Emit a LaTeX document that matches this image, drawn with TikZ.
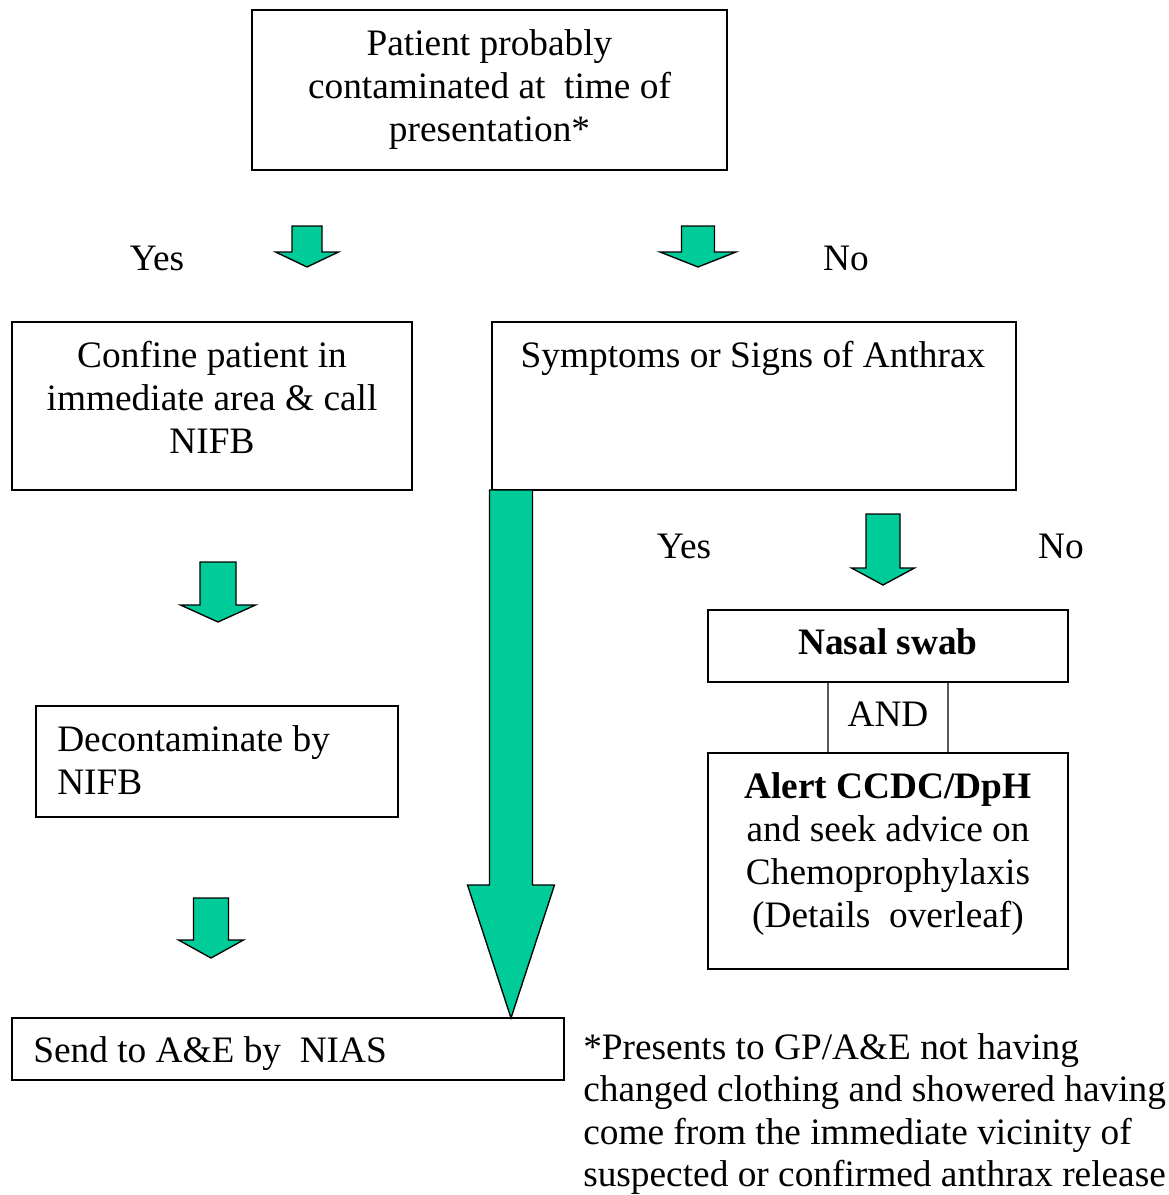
\documentclass[tikz,border=0pt]{standalone}
\usepackage{fontspec}
\setmainfont{Liberation Serif}
\usetikzlibrary{positioning,calc}
\definecolor{arrowgreen}{RGB}{0,204,153}
\newcommand{\px}{0.75pt}

\begin{document}
\begin{tikzpicture}[x=0.75pt,y=-0.75pt,
	every node/.style={font=\fontsize{28}{32.25}\selectfont},
	box/.style={draw,line width=1.1pt,inner sep=0pt,outer sep=0pt,align=center},
	txt/.style={inner sep=0pt,align=center},
	blockarr/.style={draw,fill=arrowgreen,line width=1pt,line join=miter}]

% tip, head length, head half width, shaft half width, shaft length
\newcommand{\blockarrow}[5]{\draw[blockarr] (#1) -- ++(-#3,-#2) -- ++(#3-#4,0) -- ++(0,-#5) -- ++(2*#4,0) -- ++(0,#5) -- ++(#3-#4,0) -- cycle;}

\useasboundingbox (0,0) rectangle (1169,1195);

\node[box,minimum width=475*\px,minimum height=160*\px] (top) at (489.5,90) {Patient probably\\contaminated at~ time of\\presentation*};

\node[txt] (yesa) at (157,258) {Yes};
\node[txt] (noa) at (846,258) {No};

\node[box,minimum width=400*\px,minimum height=168*\px] (conf) at (212,406) {};
\node[txt] (conftxt) at (212,397) {Confine patient in\\immediate area \& call\\NIFB};

\node[box,minimum width=524*\px,minimum height=168*\px] (sym) at (754,406) {};
\node[txt] (symtxt) at (753,358) {Symptoms or Signs of Anthrax};

\node[txt] (yesb) at (684,546) {Yes};
\node[txt] (nob) at (1061,546) {No};

\node[box,draw=gray!70!black,minimum width=120*\px,minimum height=71*\px] (andbox) at (888,717.5) {};
\node[txt] (andtxt) at (888,714) {AND};
\node[box,minimum width=360*\px,minimum height=72*\px] (nasal) at (888,646) {};
\node[txt] (nasaltxt) at (888,642) {\textbf{Nasal swab}};
\node[box,minimum width=360*\px,minimum height=216*\px] (alert) at (888,861) {};
\node[txt] (alerttxt) at (888,854) {\textbf{Alert CCDC/DpH}\\and seek advice on\\Chemoprophylaxis\\(Details~ overleaf)};

\node[box,minimum width=362*\px,minimum height=111*\px] (decon) at (217,761.5) {};
\node[txt,anchor=west,align=left] (decontxt) at (57,760) {Decontaminate by\\NIFB};

\node[box,minimum width=552*\px,minimum height=62*\px] (send) at (288,1049) {};
\node[txt,anchor=west] (sendtxt) at (33,1054) {Send to A\&E by~ NIAS};

\node[txt,anchor=west,align=left,font=\fontsize{28}{31.7}\selectfont] (foot) at (583,1114) {*Presents to GP/A\&E not having\\changed clothing and showered having\\come from the immediate vicinity of\\suspected or confirmed anthrax release};

% block arrows
\coordinate (tipa) at (307,267);
\coordinate (tipb) at (698,267);
\coordinate (tipc) at (883,585);
\coordinate (tipd) at (218,622);
\coordinate (tipe) at (211,958);
\coordinate (tipbig) at ($(send.north west)+(499,0)$);

\blockarrow{tipa}{15}{31.5}{15}{26}
\blockarrow{tipb}{15}{38}{16.5}{26}
\blockarrow{tipc}{17}{31.5}{17}{54}
\blockarrow{tipd}{17}{37.5}{18}{43}
\blockarrow{tipe}{18}{32.5}{17.5}{42}
\blockarrow{tipbig}{133}{43.5}{21.5}{395}

\end{tikzpicture}
\end{document}
